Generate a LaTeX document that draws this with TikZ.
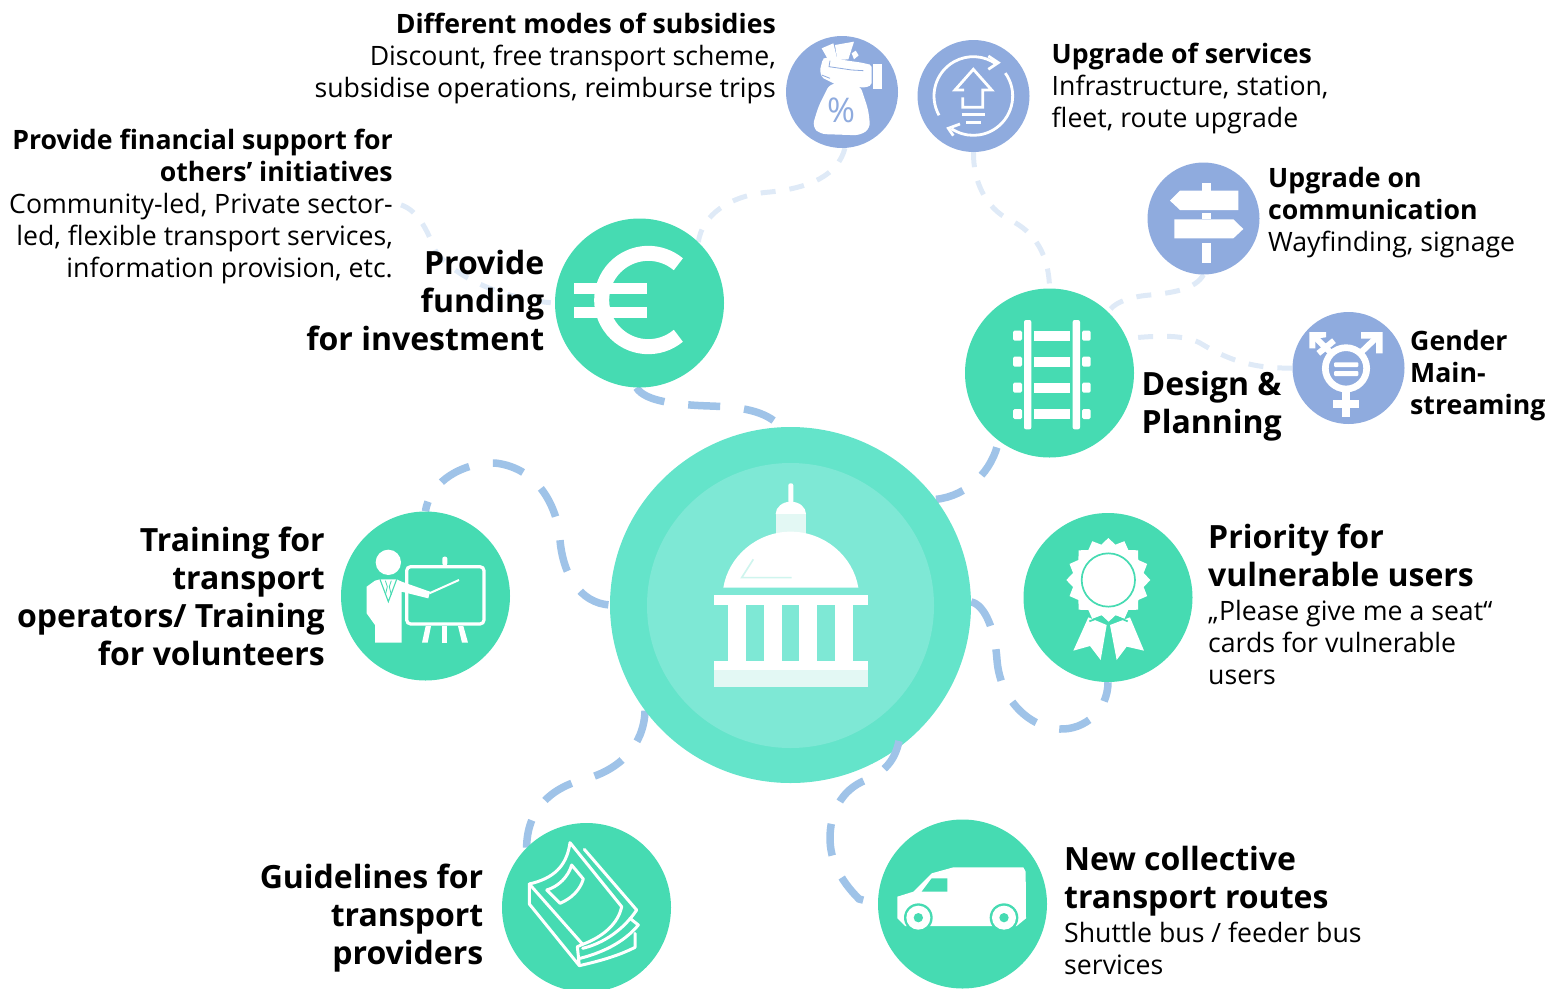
\documentclass[tikz,border=0pt]{standalone}
\usepackage{fontspec}
\setmainfont{Open Sans}
\usetikzlibrary{backgrounds,shapes.geometric}
\definecolor{hubout}{HTML}{64E4CA}
\definecolor{hubin}{HTML}{7EE8D5}
\definecolor{grn}{HTML}{46DBB2}
\definecolor{blu}{HTML}{8FABDE}
\definecolor{dkdash}{HTML}{9FC3E8}
\definecolor{ltdash}{HTML}{DFEAF7}
\definecolor{pale}{HTML}{E3F8F4}
\tikzset{
  gc/.style={circle,fill=grn,minimum size=169pt,inner sep=0pt},
  bc/.style={circle,fill=blu,minimum size=112pt,inner sep=0pt},
  strong/.style={draw=dkdash,line width=7.5pt,dash pattern=on 32pt off 24pt},
  soft/.style={draw=ltdash,line width=5pt,dash pattern=on 15pt off 14pt},
  body/.style={inner sep=0pt,font=\fontsize{26.67}{32}\selectfont},
  head/.style={inner sep=0pt,font=\fontsize{32}{38}\selectfont\bfseries},
  zoomed/.style={x=.33333pt,y=-.33333pt}
}
\begin{document}
\begin{tikzpicture}[x=1pt,y=-1pt]
\useasboundingbox (0,0) rectangle (1552,988);
% circles
\node[ellipse,fill=hubout,minimum width=361pt,minimum height=356pt,inner sep=0pt] (hub) at (790.5,605) {};
\node[ellipse,fill=hubin,minimum width=287pt,minimum height=285pt,inner sep=0pt] (hubi) at (790.5,605.5) {};
\node[gc] (euro) at (639.5,303) {};
\node[gc] (rail) at (1049.5,373) {};
\node[gc] (train) at (425.5,596) {};
\node[gc] (award) at (1108,597.5) {};
\node[gc] (book) at (586.5,907.5) {};
\node[gc] (van) at (962.5,904) {};
\node[bc] (bag) at (842,92) {};
\node[bc] (upg) at (973.5,96) {};
\node[bc] (sign) at (1203.5,218.5) {};
\node[bc] (gend) at (1348.5,368) {};
\coordinate (fin) at (392,203);
\coordinate (hv) at (899,741);
% connectors
\begin{scope}[on background layer]
\draw[strong] (euro.268) .. controls (645,402) and (680,405) .. (710,406) .. controls (740,407) and (765,410) .. (hub.93);
\draw[strong,dash phase=49pt] (rail.233) .. controls (993,470) and (968,496) .. (hub.36);
\draw[strong,dash phase=22pt] (train.90) .. controls (430,480) and (465,462) .. (495,463) .. controls (540,468) and (558,510) .. (560,540) .. controls (563,575) and (580,603) .. (hub.180);
\draw[strong] (hub.216) .. controls (644,745) and (620,770) .. (585,779) .. controls (550,788) and (527,810) .. (book.135);
\draw[strong] (hub.1) .. controls (985,605) and (995,630) .. (997,660) .. controls (1000,700) and (1030,728) .. (1060,729) .. controls (1085,730) and (1108,710) .. (award.270);
\draw[soft] (bag.273) .. controls (838,175) and (810,188) .. (770,192) .. controls (730,195) and (702,215) .. (euro.46);
\draw[soft] (upg.270) .. controls (973,180) and (985,208) .. (1010,220) .. controls (1035,232) and (1049,255) .. (rail.90);
\draw[soft] (sign.270) .. controls (1195,290) and (1170,293) .. (1150,295) .. controls (1125,297) and (1112,305) .. (rail.46);
\draw[soft] (gend.180) .. controls (1250,369) and (1225,358) .. (1200,343) .. controls (1185,335) and (1160,335) .. (rail.24);
\draw[soft,dash phase=25pt] (euro.180) .. controls (510,300) and (455,280) .. (435,250) .. controls (425,225) and (415,205) .. (fin);
\end{scope}
\draw[strong] (hv) .. controls (895,760) and (885,772) .. (866,780) .. controls (840,790) and (830,815) .. (830,838) .. controls (830,860) and (840,880) .. (859,899) -- (van.180);
% capitol
\begin{scope}[shift={(600,420)},zoomed]
\fill[white,rounded corners=2pt] (565,190) rectangle (580,250);
\fill[white] (527,282) arc[start angle=180,end angle=360,x radius=45.5,y radius=37] -- cycle;
\fill[pale] (527,282) rectangle (618,345);
\fill[white] (370,503) .. controls (385,410) and (470,335) .. (572,335) .. controls (675,335) and (760,410) .. (775,503) -- cycle;
\draw[pale!80!hubin,line width=1.6pt] (460,418) -- (425,473) -- (575,473);
\fill[white] (342,526) rectangle (803,555);
\foreach \c in {384,491,598,706} \fill[white] (\c,555) rectangle ++(54,167);
\fill[white] (342,722) rectangle (803,750);
\fill[pale] (342,750) rectangle (803,802);
\end{scope}
% euro
\begin{scope}[shift={(340,200)},zoomed]
\draw[white,line width=15pt] (925,300) ++(50:140) arc[start angle=50,end angle=310,radius=140];
\fill[white] (703,248) rectangle (920,282);
\fill[white] (703,320) rectangle (920,355);
\end{scope}
% rail
\begin{scope}[shift={(960,150)},zoomed]
\foreach \c in {192,338} \fill[white,rounded corners=2pt] (\c,510) rectangle ++(22,328);
\foreach \c in {542,620,698,777} {
  \fill[white] (221,\c) rectangle ++(110,30);
  \fill[white,rounded corners=1.5pt] (159,\c) rectangle ++(27,30);
  \fill[white,rounded corners=1.5pt] (366,\c) rectangle ++(26,30);
}
\end{scope}
% presenter
\begin{scope}[shift={(330,450)},zoomed]
\fill[white] (175,337) circle[radius=38];
\fill[white] (110,490) -- (110,410) -- (135,392) -- (150,388) -- (200,388) -- (215,395) -- (300,425) -- (295,445) -- (215,425) -- (215,578) -- (135,578) -- (135,525) -- cycle;
\draw[grn,line width=1.1pt] (150,388) -- (175,455) -- (200,388);
\draw[grn,line width=.8pt] (166,392) -- (172,410) -- (166,435) (184,392) -- (178,410) -- (184,435);
\draw[white,line width=3.2pt,rounded corners=4pt] (230,350) rectangle (462,522);
\fill[white,rounded corners=2pt] (337,320) rectangle (352,346);
\fill[white] (337,528) rectangle (352,578);
\fill[white] (287,528) -- (303,528) -- (293,578) -- (276,578) -- cycle;
\fill[white] (384,528) -- (400,528) -- (414,578) -- (396,578) -- cycle;
\draw[white,line width=2pt] (298,430) -- (387,390);
\end{scope}
% award
\begin{scope}[shift={(960,500)},zoomed]
\fill[white] (340,452) -- (385,352) -- (440,375) -- (422,480) -- (390,438) -- cycle;
\fill[white] (552,452) -- (510,352) -- (450,375) -- (470,480) -- (500,440) -- cycle;
\begin{scope}[shift={(445,240)}]
\fill[white] (0:126) \foreach \i in {1,...,31} { -- ({\i*11.25}:{ifthenelse(mod(\i,2)==0,126,108)}) } -- cycle;
\draw[grn,line width=1.7pt] (0,0) circle[radius=80];
\end{scope}
\draw[grn,line width=1.7pt] (388,364) -- (425,350) -- (447,370) -- (470,350) -- (503,364);
\draw[grn,line width=1.5pt] (445,372) -- (445,385);
\end{scope}
% book
\begin{scope}[shift={(490,700)},zoomed,white,line width=3pt,line join=round,line cap=round]
\draw (240,428) .. controls (230,500) and (190,535) .. (118,552) -- (278,733) .. controls (340,710) and (385,670) .. (395,620) -- cycle;
\draw (118,552) -- (118,612) -- (268,797) -- (262,740) -- (278,733);
\draw (283,448) -- (440,630) .. controls (400,690) and (340,730) .. (278,745);
\draw (420,655) -- (445,675) .. controls (400,730) and (330,760) .. (270,775);
\draw (435,700) -- (435,742) .. controls (380,770) and (320,785) .. (268,797);
\draw (170,570) -- (210,610) .. controls (245,595) and (270,570) .. (280,537) -- (245,495) .. controls (235,530) and (205,560) .. (170,570);
\end{scope}
% van
\begin{scope}[shift={(810,730)},zoomed]
\fill[white] (262,500) -- (310,485) -- (365,430) -- (430,412) -- (640,412) -- (647,425) -- (648,565) -- (620,588) -- (285,588) -- (262,565) -- cycle;
\fill[grn] (335,485) -- (365,445) -- (412,445) -- (412,485) -- cycle;
\foreach \c in {325,582} {
  \fill[grn] (\c,563) circle[radius=43];
  \fill[white] (\c,563) circle[radius=36];
  \fill[grn] (\c,563) circle[radius=14];
}
\end{scope}
% money bag
\begin{scope}[shift={(780,20)},zoomed]
\fill[white] (125,85) -- (160,70) -- (172,118) -- (145,120) -- cycle;
\fill[white] (165,75) -- (222,65) -- (205,118) -- (172,120) -- cycle;
\fill[white] (215,100) -- (227,92) -- (236,106) -- (222,118) -- cycle;
\fill[white,rounded corners=6pt] (150,190) -- (115,260) -- (97,320) -- (120,342) -- (240,346) -- (271,325) -- (265,270) -- (240,195) -- cycle;
\fill[white,rounded corners=2pt] (135,112) -- (245,128) -- (275,135) -- (275,195) -- (255,203) -- (170,195) -- (125,172) -- (120,150) -- (128,118) -- cycle;
\fill[white] (280,132) rectangle (306,208);
\draw[blu,line width=.8pt] (150,122) -- (147,140) -- (215,150) -- (250,152);
\draw[blu,line width=.8pt] (125,165) -- (150,175);
\node[text=blu,inner sep=0pt,font=\fontsize{34}{40}\selectfont] (pct) at (183,271) {\%};
\end{scope}
% upgrade
\begin{scope}[shift={(780,20)},zoomed,white,line width=2.8pt]
\draw (580,228) ++(150.6:118) arc[start angle=150.6,end angle=305.5,radius=118];
\draw (580,228) ++(-35.6:118) arc[start angle=-35.6,end angle=123.8,radius=118];
\draw[line join=miter] (625,108) -- (655,128) -- (625,148);
\draw[line join=miter] (540,312) -- (505,325) -- (520,347);
\draw (548,232) -- (548,262) -- (608,262) -- (608,210) -- (635,210) -- (580,148) -- (525,210) -- (552,210);
\draw[line width=3pt] (545,283) -- (615,283);
\draw[line width=3pt] (558,307) -- (603,307);
\end{scope}
% signpost
\begin{scope}[shift={(960,150)},zoomed]
\fill[white] (725,100) rectangle (752,122);
\fill[white] (725,190) rectangle (752,208);
\fill[white] (725,278) rectangle (752,338);
\fill[white] (630,152) -- (660,122) -- (835,122) -- (835,180) -- (660,180) -- cycle;
\fill[white] (643,208) -- (820,208) -- (850,237) -- (820,265) -- (643,265) -- cycle;
\end{scope}
% gender symbol
\begin{scope}[shift={(960,150)},zoomed,white]
\draw[line width=6.7pt] (1158,655) circle[radius=62];
\fill[rounded corners=1pt] (1122,637) rectangle (1195,651);
\fill[rounded corners=1pt] (1122,663) rectangle (1195,678);
\draw[line width=8pt] (1158,725) -- (1158,800);
\draw[line width=8pt] (1120,762) -- (1198,762);
\draw[line width=6pt] (1200,610) -- (1250,562);
\fill (1203,546) -- (1268,546) -- (1268,610) -- (1248,610) -- (1248,566) -- (1203,566) -- cycle;
\draw[line width=6pt] (1115,610) -- (1065,562);
\fill (1048,546) -- (1098,546) -- (1098,562) -- (1066,566) -- (1066,595) -- (1048,595) -- cycle;
\draw[line width=6pt] (1075,610) -- (1122,572);
\end{scope}
% texts
\node[body,align=right,anchor=north east] (t1) at (776,10.5) {\strut\textbf{Different modes of subsidies}\\Discount, free transport scheme,\\subsidise operations, reimburse trips};
\node[body,align=left,anchor=north west] (t2) at (1051.5,40.5) {\strut\textbf{Upgrade of services}\\Infrastructure, station,\\fleet, route upgrade};
\node[body,align=right,anchor=north east] (t3) at (393,126.5) {\strut\textbf{Provide financial support for}\\\textbf{others’ initiatives}\\Community-led, Private sector-\\led, flexible transport services,\\information provision, etc.};
\node[body,align=left,anchor=north west] (t4) at (1268,164.5) {\strut\textbf{Upgrade on}\\\textbf{communication}\\Wayfinding, signage};
\node[body,align=left,anchor=north west] (t5) at (1410,327.5) {\strut\textbf{Gender}\\\textbf{Main-}\\\textbf{streaming}};
\node[head,align=right,anchor=north east] (h1) at (544.5,247.7) {\strut Provide\\funding\\for investment};
\node[head,align=left,anchor=north west] (h2) at (1141.5,369) {\strut Design \&\\Planning};
\node[head,align=right,anchor=north east] (h3) at (325,525) {\strut Training for\\transport\\operators/ Training\\for volunteers};
\node[head,align=left,anchor=north west] (h4) at (1208,522) {\strut Priority for\\vulnerable users};
\node[body,align=left,anchor=north west] (b4) at (1208,597.5) {\strut „Please give me a seat“\\cards for vulnerable\\users};
\node[head,align=right,anchor=north east] (h5) at (483.5,862) {\strut Guidelines for\\transport\\providers};
\node[head,align=left,anchor=north west] (h6) at (1064,844) {\strut New collective\\transport routes};
\node[body,align=left,anchor=north west] (b6) at (1064,919.5) {\strut Shuttle bus / feeder bus\\services};
\end{tikzpicture}
\end{document}
